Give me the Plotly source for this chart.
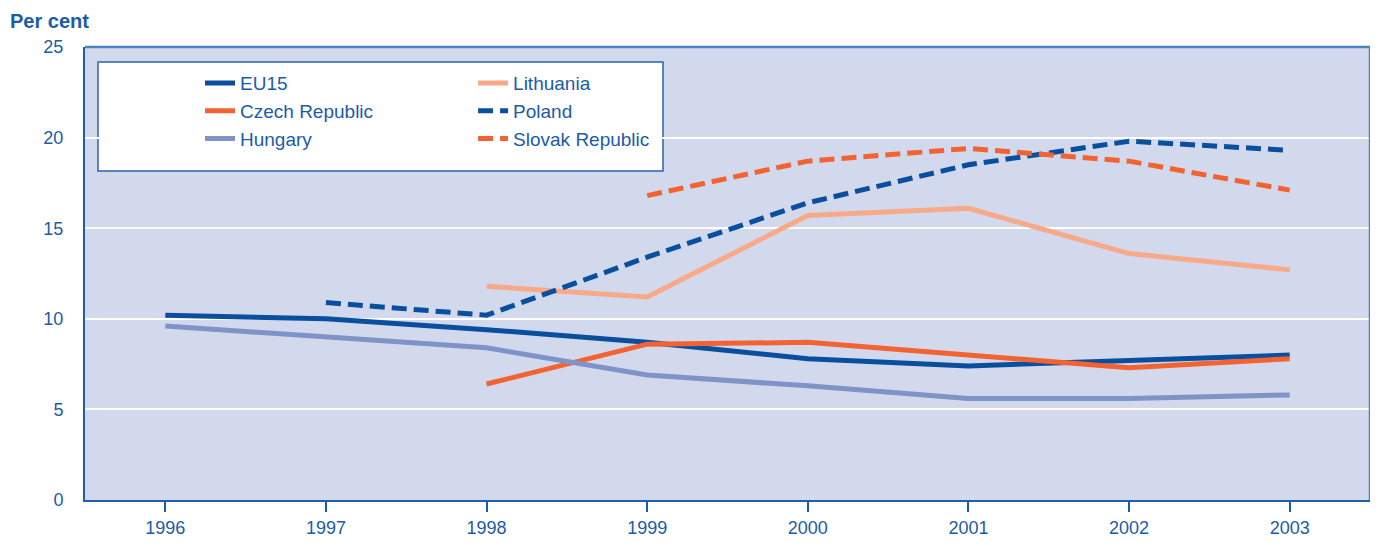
import plotly.graph_objects as go

years = ["1996", "1997", "1998", "1999", "2000", "2001", "2002", "2003"]
eu15 = [10.2, 10.0, 9.4, 8.7, 7.8, 7.4, 7.7, 8.0]
czech = [None, None, 6.4, 8.6, 8.7, 8.0, 7.3, 7.8]
hungary = [9.6, 9.0, 8.4, 6.9, 6.3, 5.6, 5.6, 5.8]
lithuania = [None, None, 11.8, 11.2, 15.7, 16.1, 13.6, 12.7]
poland = [None, 10.9, 10.2, 13.4, 16.4, 18.5, 19.8, 19.3]
slovak = [None, None, None, 16.8, 18.7, 19.4, 18.7, 17.1]

TXT = "#1B5CA8"
DBLUE = "#0A4F9E"
ORANGE = "#F26331"
HUNG = "#7F93C8"
LITH = "#F8A987"
AXIS = "#1F5FAA"
EDGE = "#4A84C4"
FONT = "Liberation Sans, Arial, sans-serif"

fig = go.Figure()
series = [
    ("EU15", eu15, DBLUE, "solid", "legend"),
    ("Czech Republic", czech, ORANGE, "solid", "legend"),
    ("Hungary", hungary, HUNG, "solid", "legend"),
    ("Lithuania", lithuania, LITH, "solid", "legend2"),
    ("Poland", poland, DBLUE, "15px,7px", "legend2"),
    ("Slovak Republic", slovak, ORANGE, "15px,7px", "legend2"),
]
for name, vals, col, dash, lg in series:
    fig.add_trace(go.Scatter(x=years, y=vals, name=name, mode="lines",
                             line=dict(color=col, width=5, dash=dash),
                             legend=lg))

fig.update_layout(
    width=1370, height=538,
    margin=dict(l=77, r=8, t=39, b=46),
    paper_bgcolor="white",
    plot_bgcolor="#D3D9EC",
    font=dict(family=FONT, size=18, color=TXT),
    showlegend=True,
    legend=dict(x=0.0895, y=0.962, xanchor="left", yanchor="top",
                bgcolor="rgba(0,0,0,0)", font=dict(size=19, color=TXT),
                tracegroupgap=0),
    legend2=dict(x=0.302, y=0.962, xanchor="left", yanchor="top",
                 bgcolor="rgba(0,0,0,0)", font=dict(size=19, color=TXT),
                 tracegroupgap=0),
    xaxis=dict(type="category", range=[-0.5, 7.5], showgrid=False,
               ticks="outside", ticklen=10, tickcolor=TXT, tickwidth=1.5,
               showline=True, linecolor=AXIS, linewidth=2, mirror=False,
               tickfont=dict(size=18, color=TXT)),
    yaxis=dict(range=[0, 25], tickvals=[0, 5, 10, 15, 20, 25],
               showgrid=True, gridcolor="white", gridwidth=1.5,
               showline=True, linecolor=AXIS, linewidth=2, mirror=False,
               ticks="", ticklabelstandoff=16, zeroline=False,
               tickfont=dict(size=18, color=TXT)),
    shapes=[
        dict(type="rect", xref="paper", yref="paper",
             x0=0.0101, x1=0.4498, y0=0.726, y1=0.967,
             line=dict(color="#2A63AE", width=1.5), fillcolor="white",
             layer="below"),
        dict(type="line", xref="paper", yref="paper", x0=0, x1=1, y0=1, y1=1,
             line=dict(color=EDGE, width=2.5)),
        dict(type="line", xref="paper", yref="paper", x0=1, x1=1, y0=0, y1=1,
             line=dict(color=EDGE, width=2.5)),
    ],
    annotations=[dict(text="<b>Per cent</b>", xref="paper", yref="paper",
                      x=-77/1285, y=1.0861, xanchor="left", yanchor="top",
                      showarrow=False, font=dict(size=20, color=TXT))],
)

fig.write_html("out.html")
